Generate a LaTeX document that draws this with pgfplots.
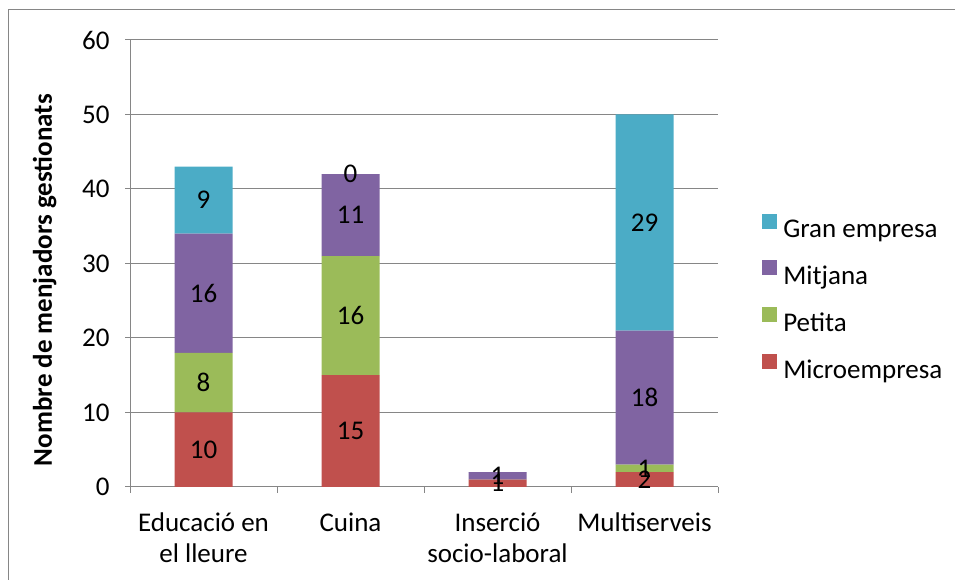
\documentclass[border=0pt]{standalone}
\usepackage{fontspec}
\setmainfont{Carlito}
\usepackage{pgfplots}
\pgfplotsset{compat=1.18}
\usepackage{pgfplotstable}

\definecolor{gran}{HTML}{4BACC6}
\definecolor{mitjana}{HTML}{8064A2}
\definecolor{petita}{HTML}{9BBB59}
\definecolor{micro}{HTML}{C0504D}
\definecolor{linegray}{HTML}{868686}

\newcommand{\chartfont}{\fontsize{27bp}{31bp}\selectfont}

% 0 Educació, 1 Cuina, 2 Inserció, 3 Multiserveis; s* = 1 if the value is written on the bar
\pgfplotstableread{
x micro petita mitjana gran smicro spetita smitjana sgran
0 10 8 16 9 1 1 1 1
1 15 16 11 0 1 1 1 1
2 1 0 1 0 1 0 1 0
3 2 1 18 29 1 1 1 1
}\data

\begin{document}
\begin{tikzpicture}[x=1bp,y=1bp]
\useasboundingbox (0,0) rectangle (955,580);
\draw[linegray, line width=1bp] (8.5,0) -- (8.5,570) -- (955,570);
\begin{axis}[
  at={(130bp,93bp)}, anchor=south west,
  scale only axis, width=588bp, height=447bp,
  ybar stacked, stacked ignores zero=false, bar width=58bp,
  xmin=-0.5, xmax=3.5, ymin=0, ymax=60,
  ytick={0,10,...,60},
  xtick={0,1,2,3},
  xticklabels={{Educació en\\el lleure},Cuina,{Inserció\\socio-laboral},Multiserveis},
  minor xtick={-0.5,0.5,1.5,2.5,3.5},
  major x tick style={draw=none},
  tick align=outside,
  major tick length=5bp, minor tick length=6bp,
  axis lines*=left,
  axis line style={draw=linegray, line width=1bp, -},
  tick style={draw=linegray, line width=1bp},
  ymajorgrids, grid style={draw=linegray, line width=1bp},
  /pgf/number format/assume math mode=true,
  ticklabel style={font=\chartfont},
  xticklabel style={align=center, yshift=-17bp},
  yticklabel style={xshift=-12bp},
  ylabel={\bfseries Nombre de menjadors gestionats},
  ylabel style={font=\chartfont, at={(axis description cs:-0.145,0.463)}, anchor=center},
  seg/.style={fill=#1, draw=none,
    visualization depends on={\thisrow{#1}\as\rawv},
    visualization depends on={\thisrow{s#1}\as\showv}},
  nodes near coords={\ifdim\showv pt>0.5pt\pgfmathprintnumber{\rawv}\fi},
  every node near coord/.append style={font=\chartfont, text=black, anchor=center},
  legend style={draw=none, fill=none, at={(axis description cs:1.075,0.423)}, anchor=west,
    font=\chartfont, row sep=19bp, column sep=4bp, inner sep=0pt},
  legend cell align=left,
  legend image code/.code={\draw[#1, draw=none] (0bp,1bp) rectangle (15bp,16bp);},
]
\addlegendimage{fill=gran, draw=none}
\addlegendimage{fill=mitjana, draw=none}
\addlegendimage{fill=petita, draw=none}
\addlegendimage{fill=micro, draw=none}
\addplot[seg=micro] table[x=x, y=micro] {\data};
\addplot[seg=petita] table[x=x, y=petita] {\data};
\addplot[seg=mitjana] table[x=x, y=mitjana] {\data};
\addplot[seg=gran] table[x=x, y=gran] {\data};
\legend{Gran empresa, Mitjana, Petita, Microempresa}
\end{axis}
\end{tikzpicture}
\end{document}
